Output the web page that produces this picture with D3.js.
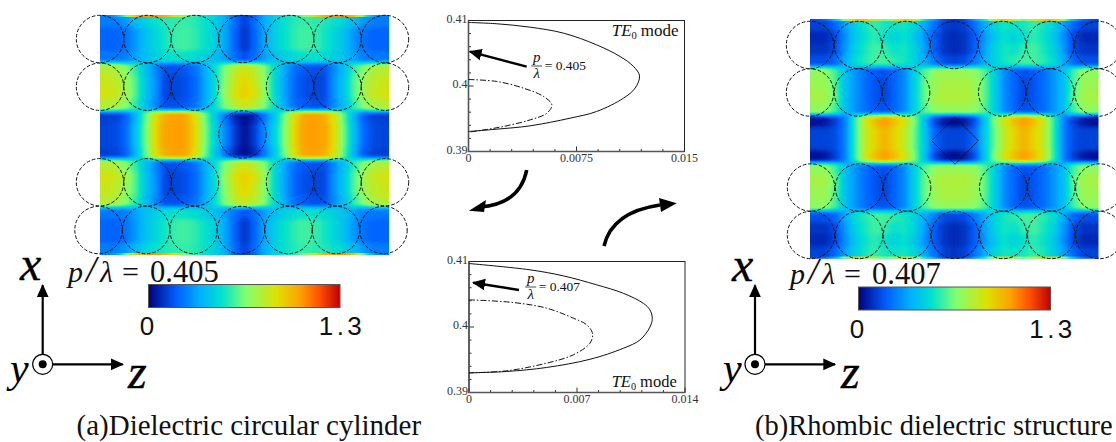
<!DOCTYPE html>
<html>
<head>
<meta charset="utf-8">
<style>
  html, body { margin: 0; padding: 0; background: #fff; overflow: hidden; }
  svg { display: block; }
  text { font-family: "Liberation Serif", serif; fill: #111; }
  .tickLabel { font-size: 12px; fill: #333; }
</style>
<script src="https://cdnjs.cloudflare.com/ajax/libs/d3/7.8.5/d3.min.js"></script>
</head>
<body>
<div id="visualization"></div>
<script>
// colour bar stops, values run 0 - 1.3
var stopValues = [0, 0.19, 0.35, 0.49, 0.66, 0.87, 1.03, 1.16, 1.3];
var stopColors = ["#00007f", "#0060ff", "#00b0ff", "#00e0d0", "#80ff70", "#e0e000", "#ffa000", "#ff5000", "#c00000"];

// field quadrants: 10 rows (top to the middle), 15 columns (left edge to the centre)
// the fields are symmetric so the other three quadrants are mirrored when drawing
var fieldCircle = [
  [0.25, 0.25, 0.30, 0.38, 0.45, 0.50, 0.53, 0.55, 0.56, 0.54, 0.50, 0.44, 0.35, 0.22, 0.12],
  [0.20, 0.20, 0.22, 0.30, 0.40, 0.46, 0.52, 0.56, 0.58, 0.55, 0.50, 0.44, 0.34, 0.20, 0.10],
  [0.20, 0.20, 0.22, 0.30, 0.40, 0.46, 0.52, 0.56, 0.58, 0.55, 0.50, 0.44, 0.34, 0.20, 0.10],
  [0.24, 0.24, 0.25, 0.32, 0.40, 0.44, 0.48, 0.50, 0.50, 0.48, 0.44, 0.40, 0.32, 0.22, 0.16],
  [0.78, 0.76, 0.68, 0.56, 0.40, 0.28, 0.16, 0.16, 0.18, 0.22, 0.34, 0.48, 0.66, 0.78, 0.84],
  [0.82, 0.80, 0.72, 0.60, 0.42, 0.30, 0.14, 0.14, 0.16, 0.20, 0.33, 0.48, 0.68, 0.82, 0.90],
  [0.84, 0.82, 0.74, 0.60, 0.42, 0.30, 0.14, 0.14, 0.16, 0.20, 0.33, 0.48, 0.70, 0.85, 0.92],
  [0.78, 0.76, 0.68, 0.56, 0.40, 0.28, 0.16, 0.16, 0.18, 0.22, 0.34, 0.48, 0.66, 0.78, 0.84],
  [0.12, 0.13, 0.18, 0.35, 0.60, 0.86, 1.00, 1.03, 1.02, 0.88, 0.64, 0.42, 0.24, 0.08, 0.02],
  [0.14, 0.15, 0.20, 0.38, 0.62, 0.88, 1.02, 1.03, 1.03, 0.90, 0.66, 0.45, 0.28, 0.12, 0.03]
];
var fieldRhombus = [
  [0.13, 0.13, 0.20, 0.32, 0.44, 0.52, 0.56, 0.52, 0.50, 0.52, 0.46, 0.34, 0.22, 0.12, 0.10],
  [0.08, 0.08, 0.14, 0.28, 0.42, 0.50, 0.55, 0.50, 0.45, 0.50, 0.42, 0.30, 0.18, 0.10, 0.08],
  [0.10, 0.10, 0.15, 0.30, 0.45, 0.52, 0.58, 0.55, 0.50, 0.52, 0.45, 0.32, 0.18, 0.10, 0.08],
  [0.16, 0.16, 0.20, 0.34, 0.48, 0.54, 0.58, 0.58, 0.54, 0.52, 0.45, 0.34, 0.24, 0.15, 0.13],
  [0.70, 0.70, 0.58, 0.40, 0.30, 0.22, 0.18, 0.16, 0.20, 0.28, 0.45, 0.60, 0.70, 0.72, 0.72],
  [0.72, 0.72, 0.60, 0.40, 0.30, 0.22, 0.17, 0.14, 0.20, 0.28, 0.45, 0.62, 0.72, 0.75, 0.75],
  [0.74, 0.74, 0.62, 0.40, 0.30, 0.22, 0.17, 0.14, 0.20, 0.28, 0.45, 0.62, 0.74, 0.76, 0.76],
  [0.70, 0.70, 0.58, 0.40, 0.30, 0.22, 0.18, 0.16, 0.20, 0.28, 0.45, 0.60, 0.70, 0.72, 0.72],
  [0.03, 0.05, 0.12, 0.25, 0.55, 0.82, 0.95, 1.04, 0.95, 0.84, 0.65, 0.40, 0.15, 0.05, 0.02],
  [0.13, 0.13, 0.15, 0.25, 0.55, 0.80, 0.90, 0.98, 0.90, 0.80, 0.62, 0.42, 0.20, 0.14, 0.13]
];

// thin hot line along the top and bottom border of each field
var edgeCircle = [0.25, 0.30, 0.60, 0.95, 1.05, 1.05, 1.00, 0.85, 0.65, 0.55, 0.50, 0.45, 0.35, 0.20, 0.12];
var edgeRhombus = [0.15, 0.20, 0.35, 0.70, 0.95, 0.95, 0.80, 0.60, 0.80, 0.95, 0.80, 0.50, 0.30, 0.15, 0.10];

// which lattice sites hold a cylinder, row by row
var circleSites = [
  [0, 1, 2, 3, 4, 5, 6],
  [0, 1, 2, 4, 5, 6],
  [3],
  [0, 1, 2, 4, 5, 6],
  [0, 1, 2, 3, 4, 5, 6]
];
var rhombusSites = [
  [0, 1, 2, 3, 4, 5, 6],
  [0, 1, 2, 4, 5, 6],
  [],
  [0, 1, 2, 4, 5, 6],
  [0, 1, 2, 3, 4, 5, 6]
];

// curves: [x, y]
var topOuter = [[0, 0.4097], [0.00197, 0.4095], [0.00428, 0.40898], [0.0066, 0.40807], [0.0089, 0.40628], [0.01053, 0.4045], [0.01146, 0.40298], [0.01188, 0.40155], [0.01157, 0.39967], [0.01076, 0.39814], [0.0089, 0.39611], [0.00706, 0.39509], [0.00428, 0.39392], [0.00197, 0.39341], [0, 0.39305]];
var topInner = [[0, 0.40099], [0.00197, 0.40069], [0.00382, 0.39967], [0.00521, 0.3984], [0.00579, 0.39712], [0.00544, 0.39585], [0.00428, 0.39483], [0.00243, 0.39382], [0.00081, 0.39321], [0, 0.39295]];
var bottomOuter = [[0, 0.40969], [0.00395, 0.40873], [0.00611, 0.40781], [0.00827, 0.40644], [0.0100, 0.40515], [0.0113, 0.40362], [0.01173, 0.4026], [0.01188, 0.40133], [0.01173, 0.4], [0.01108, 0.39802], [0.0100, 0.39675], [0.00784, 0.39507], [0.00503, 0.39382], [0.00244, 0.39321], [0, 0.393]];
var bottomInner = [[0, 0.40415], [0.00287, 0.40374], [0.00503, 0.40288], [0.00676, 0.40135], [0.00763, 0.40033], [0.00801, 0.39896], [0.00784, 0.39753], [0.00676, 0.39575], [0.00503, 0.39448], [0.00244, 0.39331], [0, 0.393]];

var yTicks = [0.39, 0.4, 0.41];
var topXTicks = [0, 0.0075, 0.015];
var bottomXTicks = [0, 0.007, 0.014];

//////////////////////////////////////////////////////////////////////////////

var svg = d3.select("#visualization").append("svg")
    .attr("width", 1116)
    .attr("height", 442);

var defs = svg.append("defs");

var colorScale = d3.scaleLinear().domain(stopValues).range(stopColors).clamp(true);
var grayScale = d3.scaleLinear().domain([0, 1.3]).range([0, 255]);

// cells are painted as gray levels, blurred, then mapped through the colour bar,
// that way the smoothing happens on the values and not on the colours
var tableSteps = d3.range(0, 131).map(function(i){ return d3.rgb(colorScale(i / 100)); });

function makeFilter(id, std) {
  var filter = defs.append("filter")
      .attr("id", id)
      .attr("filterUnits", "userSpaceOnUse")
      .attr("color-interpolation-filters", "sRGB")
      .attr("x", 0).attr("y", 0).attr("width", 1116).attr("height", 442);
  filter.append("feGaussianBlur").attr("stdDeviation", std);
  var transfer = filter.append("feComponentTransfer");
  [["feFuncR", "r"], ["feFuncG", "g"], ["feFuncB", "b"]].forEach(function(f){
    transfer.append(f[0])
        .attr("type", "table")
        .attr("tableValues", tableSteps.map(function(c){ return (c[f[1]] / 255).toFixed(3); }).join(" "));
  });
}
makeFilter("soft", "3.6 2.0");
makeFilter("softEdge", "3.6 0.6");

var barGradient = defs.append("linearGradient").attr("id", "barGradient");
barGradient.selectAll("stop")
    .data(stopValues)
    .enter().append("stop")
    .attr("offset", function(d){ return (d / 1.3 * 100) + "%"; })
    .attr("stop-color", function(d, i){ return stopColors[i]; });

defs.append("marker")
    .attr("id", "axisHead")
    .attr("viewBox", "0 0 10 10")
    .attr("refX", 9).attr("refY", 5)
    .attr("markerUnits", "userSpaceOnUse")
    .attr("markerWidth", 13).attr("markerHeight", 13)
    .attr("orient", "auto")
  .append("path")
    .attr("d", "M0,0.5L10,5L0,9.5Z")
    .attr("fill", "#000");

//////////////////////////////////////////////////////////////////////////////

function grayOf(v) {
  var g = Math.round(grayScale(v));
  return d3.rgb(g, g, g).formatHex();
}

function drawField(id, quadrant, edge, box) {
  var rows = d3.range(20);
  var cols = d3.range(29);

  var xBand = d3.scaleBand().domain(cols).range([box.x, box.x + box.w]);
  var yBand = d3.scaleBand().domain(rows).range([box.y, box.y + box.h]);

  var cells = [];
  rows.forEach(function(r){
    cols.forEach(function(c){
      cells.push({ row: r, col: c, value: quadrant[Math.min(r, 19 - r)][Math.min(c, 28 - c)] });
    });
  });

  defs.append("clipPath").attr("id", id)
    .append("rect")
    .attr("x", box.x).attr("y", box.y).attr("width", box.w).attr("height", box.h);

  var clipped = svg.append("g").attr("clip-path", "url(#" + id + ")");

  // edge cells are pushed out past the clip so the blur does not fade at the border
  var pad = 16;
  clipped.append("g")
      .attr("filter", "url(#soft)")
    .selectAll("rect")
      .data(cells)
      .enter().append("rect")
      .attr("x", function(d){ return xBand(d.col) - (d.col == 0 ? pad : 0); })
      .attr("y", function(d){ return yBand(d.row) - (d.row == 0 ? pad : 0); })
      .attr("width", function(d){ return xBand.bandwidth() + 0.5 + (d.col == 0 || d.col == 28 ? pad : 0); })
      .attr("height", function(d){ return yBand.bandwidth() + 0.5 + (d.row == 0 || d.row == 19 ? pad : 0); })
      .style("fill", function(d){ return grayOf(d.value); });

  var strips = [];
  [box.y - 1, box.y + box.h - 2].forEach(function(y){
    cols.forEach(function(c){
      strips.push({ col: c, y: y, value: edge[Math.min(c, 28 - c)] });
    });
  });

  clipped.append("g")
      .attr("filter", "url(#softEdge)")
    .selectAll("rect")
      .data(strips)
      .enter().append("rect")
      .attr("x", function(d){ return xBand(d.col); })
      .attr("y", function(d){ return d.y; })
      .attr("width", xBand.bandwidth() + 0.5)
      .attr("height", 3)
      .style("fill", function(d){ return grayOf(d.value); });
}

function drawSites(sites, lattice) {
  var xSite = d3.scaleLinear().domain([0, 6]).range(lattice.x);
  var ySite = d3.scaleLinear().domain([0, 4]).range(lattice.y);

  var points = [];
  sites.forEach(function(row, r){
    row.forEach(function(s){
      points.push({ row: r, site: s });
    });
  });

  svg.append("g").selectAll("circle")
      .data(points)
      .enter().append("circle")
      .attr("cx", function(d){ return xSite(d.site) + lattice.shift[d.row]; })
      .attr("cy", function(d){ return ySite(d.row); })
      .attr("r", lattice.r)
      .attr("fill", "none")
      .attr("stroke", "#111")
      .attr("stroke-width", 1)
      .attr("stroke-dasharray", "3.6 1.8");
}

function drawBar(x, y, w, h) {
  svg.append("rect")
      .attr("x", x).attr("y", y).attr("width", w).attr("height", h)
      .attr("fill", "url(#barGradient)")
      .attr("stroke", "#555")
      .attr("stroke-width", 1);

  var barScale = d3.scaleLinear().domain([0, 1.3]).range([x, x + w]);
  svg.selectAll(null)
      .data([0, 1.3])
      .enter().append("text")
      .attr("x", function(d){ return barScale(d) + (d == 0 ? -1.5 : 2); })
      .attr("y", y + 50.5)
      .attr("text-anchor", "middle")
      .style("font-family", "'Liberation Sans Narrow', 'Liberation Sans'")
      .style("font-size", "26px")
      .style("letter-spacing", function(d){ return d == 0 ? "0" : "3.5px"; })
      .text(function(d){ return d == 0 ? "0" : "1.3"; });
}

function drawRatio(x, y, value) {
  var parts = [
    { at: 0, text: "p", style: "italic", size: 30 },
    { at: 18, text: "/", style: "italic", size: 37 },
    { at: 32, text: "λ", style: "italic", size: 30 },
    { at: 54, text: "=", style: "normal", size: 30 },
    { at: 82, text: value, style: "normal", size: 30.5 }
  ];
  svg.selectAll(null)
      .data(parts)
      .enter().append("text")
      .attr("x", function(d){ return x + d.at; })
      .attr("y", y)
      .style("font-size", function(d){ return d.size + "px"; })
      .style("font-style", function(d){ return d.style; })
      .text(function(d){ return d.text; });
}

function drawAxes(x, y, xText, yText, zText) {
  var r = 10;
  svg.append("line")
      .attr("x1", x).attr("y1", y - r).attr("x2", x).attr("y2", y - 79)
      .attr("stroke", "#000").attr("stroke-width", 2.2)
      .attr("marker-end", "url(#axisHead)");
  svg.append("line")
      .attr("x1", x + r).attr("y1", y).attr("x2", x + 80).attr("y2", y)
      .attr("stroke", "#000").attr("stroke-width", 2.2)
      .attr("marker-end", "url(#axisHead)");
  svg.append("circle")
      .attr("cx", x).attr("cy", y).attr("r", r)
      .attr("fill", "#fff").attr("stroke", "#000").attr("stroke-width", 1.2);
  svg.append("circle")
      .attr("cx", x).attr("cy", y).attr("r", 4)
      .attr("fill", "#000");

  svg.selectAll(null)
      .data([["x", xText], ["y", yText], ["z", zText]])
      .enter().append("text")
      .attr("x", function(d){ return d[1][0]; })
      .attr("y", function(d){ return d[1][1]; })
      .style("font-size", function(d){ return d[0] == "y" ? "42px" : "48px"; })
      .style("font-style", "italic")
      .style("fill", "#000")
      .style("stroke", "#000")
      .style("stroke-width", function(d){ return d[0] == "y" ? 0 : 0.35; })
      .text(function(d){ return d[0]; });
}

function drawPlot(box, xMax, xTicks, outer, inner) {
  var xScale = d3.scaleLinear().domain([0, xMax]).range([box.x, box.x + box.w]);
  var yScale = d3.scaleLinear().domain([0.39, 0.41]).range([box.y + box.h, box.y]);

  var g = svg.append("g");

  // thin minor ticks, ten divisions per side
  var xMinor = d3.range(0, 11).map(function(i){ return i * xMax / 10; });
  var yMinor = d3.range(0, 11).map(function(i){ return 0.39 + i * 0.002; });

  g.selectAll(".xMinor")
      .data(xMinor)
      .enter().append("line")
      .attr("class", "xMinor")
      .attr("x1", function(d){ return xScale(d); })
      .attr("x2", function(d){ return xScale(d); })
      .attr("y1", box.y + box.h)
      .attr("y2", function(d, i){ return box.y + box.h - (i % 5 == 0 ? 5 : 2.5); })
      .attr("stroke", "#333");

  g.selectAll(".yMinor")
      .data(yMinor)
      .enter().append("line")
      .attr("class", "yMinor")
      .attr("y1", function(d){ return yScale(d); })
      .attr("y2", function(d){ return yScale(d); })
      .attr("x1", box.x)
      .attr("x2", function(d, i){ return box.x + (i % 5 == 0 ? 5 : 2.5); })
      .attr("stroke", "#333");

  g.append("rect")
      .attr("x", box.x).attr("y", box.y).attr("width", box.w).attr("height", box.h)
      .attr("fill", "none")
      .attr("stroke", "#222")
      .attr("stroke-width", 1);

  // left and bottom sides read heavier than the other two
  g.append("path")
      .attr("d", d3.line()([[box.x, box.y], [box.x, box.y + box.h], [box.x + box.w, box.y + box.h]]))
      .attr("fill", "none")
      .attr("stroke", "#555")
      .attr("stroke-width", 1.6);

  var line = d3.line()
      .x(function(d){ return xScale(d[0]); })
      .y(function(d){ return yScale(d[1]); })
      .curve(d3.curveCatmullRom.alpha(0.5));

  g.append("path")
      .attr("d", line(outer))
      .attr("fill", "none")
      .attr("stroke", "#111")
      .attr("stroke-width", 1);

  g.append("path")
      .attr("d", line(inner))
      .attr("fill", "none")
      .attr("stroke", "#111")
      .attr("stroke-width", 1)
      .attr("stroke-dasharray", "6 2 1.5 2");

  g.selectAll(".yLabel")
      .data(yTicks)
      .enter().append("text")
      .attr("class", "yLabel tickLabel")
      .attr("x", box.x - 1)
      .attr("y", function(d){ return yScale(d) + 2; })
      .attr("text-anchor", "end")
      .text(function(d){ return d; });

  g.selectAll(".xLabel")
      .data(xTicks)
      .enter().append("text")
      .attr("class", "xLabel tickLabel")
      .attr("x", function(d){ return xScale(d); })
      .attr("y", box.y + box.h + 10)
      .attr("text-anchor", "middle")
      .text(function(d){ return d; });

  return { x: xScale, y: yScale };
}

function drawFraction(x, y, value) {
  svg.append("text")
      .attr("x", x).attr("y", y - 8)
      .attr("text-anchor", "middle")
      .style("font-size", "15px")
      .style("font-style", "italic")
      .text("p");
  svg.append("line")
      .attr("x1", x - 5.5).attr("x2", x + 5.5)
      .attr("y1", y - 4).attr("y2", y - 4)
      .attr("stroke", "#222").attr("stroke-width", 0.8);
  svg.append("text")
      .attr("x", x).attr("y", y + 8)
      .attr("text-anchor", "middle")
      .style("font-size", "15px")
      .style("font-style", "italic")
      .text("λ");
  svg.append("text")
      .attr("x", x + 8).attr("y", y)
      .style("font-size", "13.5px")
      .text("= " + value);
}

function drawMode(x, y, size) {
  var t = svg.append("text")
      .attr("x", x).attr("y", y)
      .style("font-size", size + "px");
  t.append("tspan").style("font-style", "italic").text("TE");
  t.append("tspan").attr("dy", 3).style("font-size", (size * 0.62) + "px").text("0");
  t.append("tspan").attr("dy", -3).attr("dx", 4).text("mode");
}

function drawPointer(scales, from, to) {
  svg.append("line")
      .attr("x1", scales.x(from[0])).attr("y1", scales.y(from[1]))
      .attr("x2", scales.x(to[0])).attr("y2", scales.y(to[1]))
      .attr("stroke", "#000")
      .attr("stroke-width", 2.4)
      .attr("marker-end", "url(#axisHead)");
}

function drawBend(d, head) {
  svg.append("path")
      .attr("d", d)
      .attr("fill", "none")
      .attr("stroke", "#000")
      .attr("stroke-width", 3.6);
  svg.append("path")
      .attr("d", head)
      .attr("fill", "#000");
}

//////////////////////////////////////////////////////////////////////////////

drawField("clipA", fieldCircle, edgeCircle, { x: 100, y: 15, w: 289, h: 240 });
drawSites(circleSites, { x: [100, 385], y: [39, 230], r: 23.7, shift: [0, 0, 0, 0, -1.5] });

drawField("clipB", fieldRhombus, edgeRhombus, { x: 810, y: 19, w: 288.5, h: 239.5 });
drawSites(rhombusSites, { x: [810, 1098.3], y: [45, 235], r: 23.7, shift: [0, 0, 0, 1, 1] });

// the single rhombus in the middle of the right field
svg.append("path")
    .attr("d", d3.line()([[955, 117.2], [978.3, 140.7], [955, 164.2], [931.7, 140.7]]) + "Z")
    .attr("fill", "none")
    .attr("stroke", "#111")
    .attr("stroke-width", 0.9)
    .attr("stroke-dasharray", "4 1");

drawRatio(68, 282, "0.405");
drawRatio(790, 284, "0.407");

drawBar(148.5, 284.5, 191.5, 23);
drawBar(858.5, 287, 192, 23);

drawAxes(42.7, 364.3, [20, 280], [10, 382], [128, 388]);
drawAxes(755, 364.3, [732, 281], [723, 382], [841, 388]);

var topPlot = drawPlot({ x: 468.5, y: 20.5, w: 216, h: 131 }, 0.015, topXTicks, topOuter, topInner);
var bottomPlot = drawPlot({ x: 469, y: 261.5, w: 216, h: 131 }, 0.014, bottomXTicks, bottomOuter, bottomInner);

drawPointer(topPlot, [0.00404, 0.40295], [0.0001, 0.40524]);
drawPointer(bottomPlot, [0.00324, 0.40565], [0.00028, 0.40676]);

drawFraction(536.7, 70, "0.405");
drawFraction(530.7, 291, "0.407");

drawMode(611.7, 36, 17);
drawMode(611.7, 387, 16.5);

drawBend("M526.7,170Q520,204 480,207", "M469,210.7L486,200L484,212Z");
drawBend("M604,246Q612,212 660,205", "M676.7,203.3L659,198L661,212Z");

svg.append("text")
    .attr("x", 76.5).attr("y", 435)
    .style("font-size", "29px")
    .text("(a)Dielectric circular cylinder");

// a touch smaller than the left caption so it stays inside the picture
svg.append("text")
    .attr("x", 755).attr("y", 435)
    .style("font-size", "28.5px")
    .text("(b)Rhombic dielectric structure");
</script>
</body>
</html>
